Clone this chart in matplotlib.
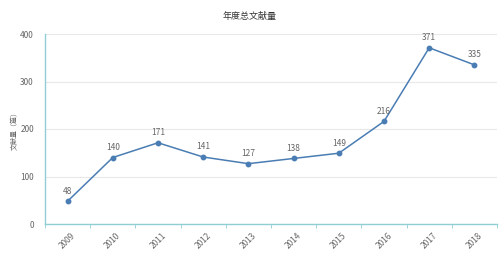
import matplotlib
matplotlib.use("Agg")
import matplotlib.pyplot as plt
import numpy as np

plt.rcParams["font.family"] = ["Noto Sans CJK SC", "DejaVu Sans"]

YEARS = ["2009", "2010", "2011", "2012", "2013", "2014", "2015", "2016", "2017", "2018"]
COUNTS = [48, 140, 171, 141, 127, 138, 149, 216, 371, 335]

TITLE = "年度总文献量"
YLABEL = "文献量（篇）"

LINE_COLOR = "#4a7db3"
AXIS_COLOR = "#8fcfd4"
TEXT_COLOR = "#666666"

fig = plt.figure(figsize=(5.0, 2.57), dpi=100)
ax = fig.add_axes([45 / 500, 1 - 224 / 257, 452 / 500, 190 / 257])

x = np.arange(len(YEARS))
ax.plot(x, COUNTS, color=LINE_COLOR, lw=1.1, marker="o", ms=3.2, zorder=3)
for xi, v in zip(x, COUNTS):
    ax.annotate(str(v), (xi, v), xytext=(0, 4), textcoords="offset points",
                ha="center", va="bottom", fontsize=6, color=TEXT_COLOR)

ax.set_xlim(-0.5, len(YEARS) - 0.5)
ax.set_ylim(0, 400)
ax.set_yticks([0, 100, 200, 300, 400])
ax.set_xticks(x)
ax.set_xticklabels(YEARS, rotation=45, fontsize=6, color=TEXT_COLOR)
ax.set_xticks(np.arange(-0.5, len(YEARS), 1), minor=True)
ax.tick_params(axis="x", which="major", length=0, pad=5)
ax.tick_params(axis="x", which="minor", length=3, color=AXIS_COLOR)
ax.tick_params(axis="y", length=0, labelsize=6, labelcolor=TEXT_COLOR, pad=8)

ax.grid(axis="y", color="#e8e8e8", lw=0.8)
ax.set_axisbelow(True)
for side in ("top", "right"):
    ax.spines[side].set_visible(False)
for side in ("left", "bottom"):
    ax.spines[side].set_color(AXIS_COLOR)
    ax.spines[side].set_linewidth(1.0)

ax.set_ylabel(YLABEL, fontsize=5, color=TEXT_COLOR, labelpad=1)
fig.text(0.5, 1 - 16 / 257, TITLE, ha="center", va="center", fontsize=6.5, color="#333333")

fig.savefig("out.png", dpi=100)
